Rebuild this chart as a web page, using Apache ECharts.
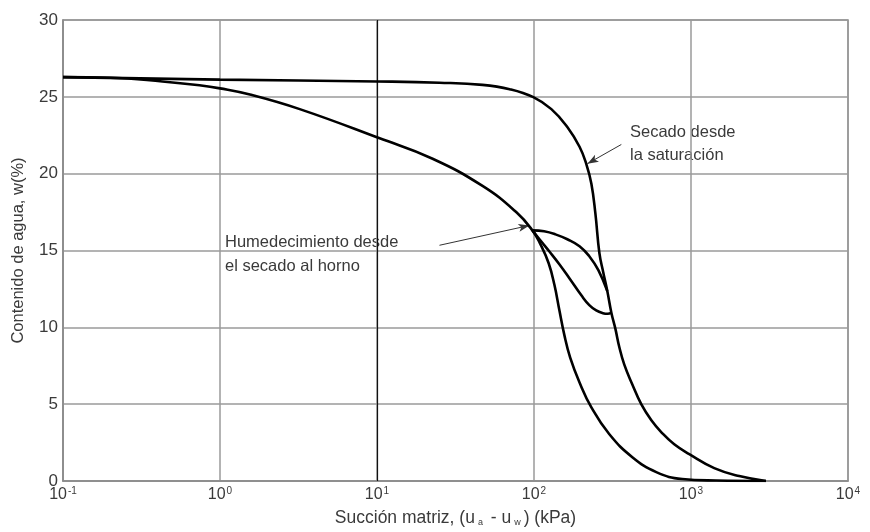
<!DOCTYPE html>
<html>
<head>
<meta charset="utf-8">
<script src="https://cdn.jsdelivr.net/npm/echarts@6/dist/echarts.min.js"></script>
<style>html,body{margin:0;padding:0;background:#fff}#c{width:870px;height:532px}</style>
</head>
<body>
<div id="c"></div>
<script>
// Curve 1: drying from saturation
var dryX = [0.1, 1, 10, 25, 47, 70, 99, 129, 163, 195, 215, 232, 246, 261, 276, 293, 311, 330, 349, 376, 423, 483, 559, 648, 782, 975, 1406, 2028, 3000];
var dryW = [26.28, 26.12, 26.0, 25.92, 25.78, 25.5, 24.98, 24.2, 23.04, 21.75, 20.65, 19.35, 17.41, 14.82, 13.59, 12.36, 10.95, 9.9, 8.74, 7.57, 6.28, 4.98, 3.95, 3.17, 2.39, 1.75, 0.84, 0.32, 0];
// Curve 2: wetting from oven dry (main lower curve)
var wetX = [0.1, 0.2, 0.43, 0.74, 1, 1.55, 3.22, 10.4, 22.6, 47, 77, 97.7, 110, 124, 135, 145, 156, 170, 195, 232, 302, 423, 601, 879, 1446, 3000];
var wetW = [26.28, 26.24, 26.0, 25.75, 25.55, 25.15, 24.2, 22.3, 20.97, 19.2, 17.5, 16.31, 15.4, 14.17, 12.75, 11.13, 9.51, 8.03, 6.41, 4.79, 3.04, 1.55, 0.58, 0.13, 0.03, 0];
// Scanning loop, upper branch
var upX = [97.7, 116, 137, 163, 195, 225, 257, 293];
var upW = [16.31, 16.25, 16.05, 15.73, 15.28, 14.63, 13.72, 12.36];
// Scanning loop, lower branch
var loX = [97.7, 111, 125, 145, 168, 203, 225, 249, 275, 295, 311];
var loW = [16.31, 15.6, 14.95, 14.11, 13.2, 12.0, 11.45, 11.1, 10.92, 10.88, 10.95];
// Tick labels
var xTickExp = {'0.1': '-1', '1': '0', '10': '1', '100': '2', '1000': '3', '10000': '4'};
var yMin = 0, yMax = 30, yStep = 5;
// Annotations
var noteDry = ['Secado desde', 'la saturación'];
var noteWet = ['Humedecimiento desde', 'el secado al horno'];
var arrowDry = [[360, 21.9], [219, 20.65]];
var arrowWet = [[25, 15.34], [93.5, 16.63]];

function zip(xs, ys) { return xs.map(function (x, i) { return [x, ys[i]]; }); }

var chart = echarts.init(document.getElementById('c'));
var lineStyle = {color: '#000', width: 2.6};
function curve(name, xs, ys) {
  return {
    name: name, type: 'line', data: zip(xs, ys), showSymbol: false, symbol: 'none',
    smooth: 0.45, lineStyle: lineStyle, silent: true, z: 5
  };
}
var series = [
  curve('dry', dryX, dryW),
  curve('wet', wetX, wetW),
  curve('up', upX, upW),
  curve('lo', loX, loW)
];
series.push({
  type: 'line', data: [], silent: true,
  markLine: {
    silent: true, symbol: ['none', 'arrow'], symbolSize: [6, 11],
    label: {show: false},
    lineStyle: {color: '#333', width: 1, type: 'solid'},
    data: [
      [{coord: arrowDry[0]}, {coord: arrowDry[1]}],
      [{coord: arrowWet[0]}, {coord: arrowWet[1]}]
    ]
  }
});
series.push({
  type: 'line', data: [], silent: true,
  markLine: {
    silent: true, symbol: ['none', 'none'], label: {show: false},
    lineStyle: {color: '#111', width: 1.2, type: 'solid'},
    data: [{xAxis: 10}]
  }
});

var noteStyle = {fill: '#3a3a3a', font: '16.5px "Liberation Sans", Arial, sans-serif'};
chart.setOption({
  animation: false,
  backgroundColor: '#fff',
  grid: {left: 63, right: 22, top: 20, bottom: 48, show: true, borderColor: '#8a8a8a', borderWidth: 1.5},
  xAxis: {
    type: 'log', logBase: 10, min: 0.1, max: 10000,
    name: '{t|Succión matriz, (u}{s|a}{t| - u}{s|w}{t|) (kPa)}',
    nameLocation: 'middle', nameGap: 28,
    nameTextStyle: {
      rich: {
        t: {fontSize: 17.5, color: '#3a3a3a', fontFamily: 'Liberation Sans'},
        s: {fontSize: 9, color: '#3a3a3a', fontFamily: 'Liberation Sans', verticalAlign: 'top', padding: [9, 3, 0, 3]}
      }
    },
    axisLine: {show: true, lineStyle: {color: '#8a8a8a', width: 1.5}},
    axisTick: {show: false},
    minorTick: {show: false},
    splitLine: {show: true, lineStyle: {color: '#9a9a9a', width: 1.5}},
    axisLabel: {
      margin: 5,
      formatter: function (v) {
        var k = String(+v.toPrecision(6));
        var e = xTickExp[k];
        if (e === undefined) return '';
        return '{b|10}{s|' + e + '}';
      },
      rich: {
        b: {fontSize: 16, color: '#3a3a3a', fontFamily: 'Liberation Sans'},
        s: {fontSize: 10, color: '#3a3a3a', fontFamily: 'Liberation Sans', verticalAlign: 'bottom', padding: [0, 0, 7, 1]}
      }
    }
  },
  yAxis: {
    type: 'value', min: yMin, max: yMax, interval: yStep,
    name: 'Contenido de agua, w(%)', nameLocation: 'middle', nameGap: 36,
    nameTextStyle: {fontSize: 16.5, color: '#3a3a3a', fontFamily: 'Liberation Sans'},
    axisLine: {show: true, lineStyle: {color: '#8a8a8a', width: 1.5}},
    axisTick: {show: false},
    splitLine: {show: true, lineStyle: {color: '#9a9a9a', width: 1.5}},
    axisLabel: {margin: 5, fontSize: 17, color: '#3a3a3a', fontFamily: 'Liberation Sans'}
  },
  series: series,
  graphic: [
    {type: 'text', left: 630, top: 121, style: Object.assign({text: noteDry.join('\n'), lineHeight: 23}, noteStyle)},
    {type: 'text', left: 225, top: 230, style: Object.assign({text: noteWet.join('\n'), lineHeight: 24}, noteStyle)}
  ]
});
</script>
</body>
</html>
